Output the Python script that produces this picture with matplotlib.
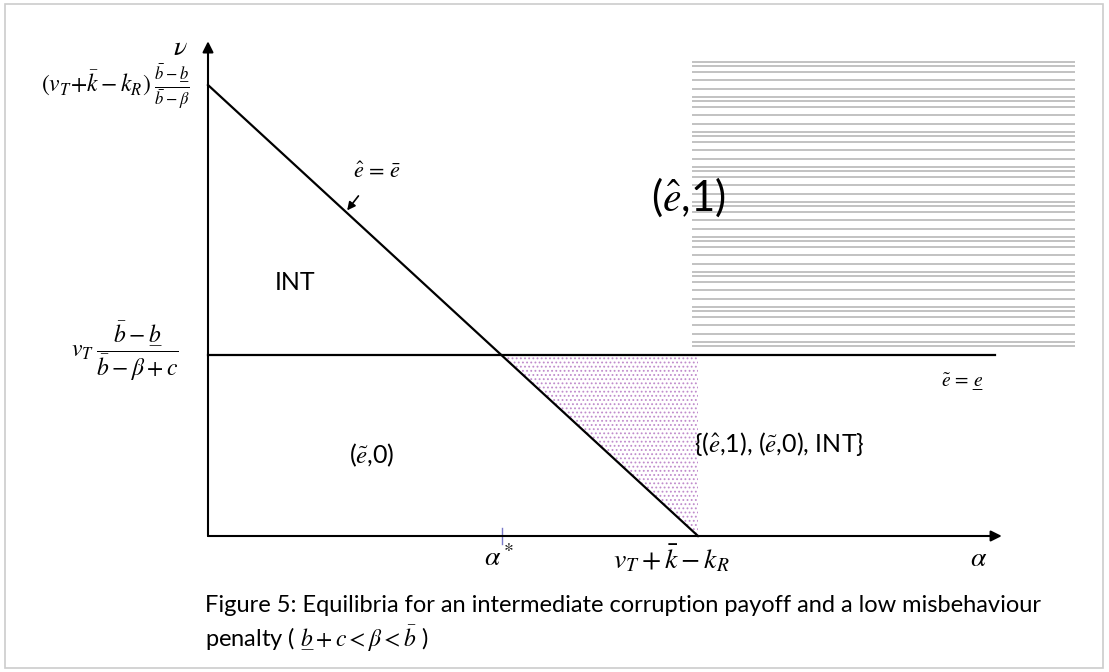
import numpy as np
import matplotlib
matplotlib.use("Agg")
import matplotlib.pyplot as plt
from matplotlib.patches import Rectangle
from matplotlib.mathtext import MathTextParser

plt.rcParams['mathtext.fontset'] = 'stix'
plt.rcParams['font.family'] = ['Lato', 'DejaVu Sans']
plt.rcParams['hatch.linewidth'] = 0.8

# underline support check (older mathtext has no \underline)
try:
    MathTextParser('path').parse(r'$\underline{b}$')
    UB, UE = r'\underline{b}', r'\underline{e}'
except Exception:
    UB, UE = 'b\u0332', 'e\u0332'

# --- chart values (alpha on x, nu on y, intercepts normalised to 1) ---
diag_alpha = [0.0, 1.0]          # e_hat = e_bar boundary
diag_nu = [1.0, 0.0]
nu_eq = 0.401                    # e_tilde = e_underline level
alpha_star = 1.0 - nu_eq         # where the two boundaries cross
alpha_end = 1.0                  # v_T + k_bar - k_R
hline_end = 1.606
x_axis_end = 1.62
y_axis_end = 1.097

# (e_hat,1) striped block
stripe_alpha = [0.988, 1.769]
stripe_top, stripe_bottom = 1.051, 0.419
stripe_period = 0.0776
stripe_offsets = [0.0, 0.0096, 0.0222, 0.0406, 0.0591]

# region labels
region_labels = ['INT', r'($\hat{e}$,1)', r'($\tilde{e}$,0)',
                 r'{($\hat{e}$,1), ($\tilde{e}$,0), INT}']
region_pos = [(0.178, 0.563), (0.980, 0.752), (0.335, 0.180), (0.992, 0.205)]
region_size = [18, 30, 18, 18]

fig = plt.figure(figsize=(11.09, 6.72), dpi=100)
ax = fig.add_axes([0, 0, 1, 1])
ax.set_xlim(-208 / 490, (1109 - 208) / 490)
ax.set_ylim((536 - 672) / 451, 536 / 451)
ax.axis('off')

# light frame round the figure
fig.patches.append(Rectangle((5 / 1109, 4 / 672), 1098 / 1109, 664 / 672,
                             transform=fig.transFigure, fill=False,
                             edgecolor='#cccccc', lw=1.2))

# stripes
stripe_y = []
for start in np.arange(stripe_top, stripe_bottom, -stripe_period):
    for off in stripe_offsets:
        y = start - off
        if y >= stripe_bottom:
            stripe_y.append(y)
ax.hlines(stripe_y, stripe_alpha[0], stripe_alpha[1], color='#bdbdbd', lw=1.3)

# dotted triangle of multiple equilibria
ax.fill([alpha_star, alpha_end, alpha_end], [nu_eq, nu_eq, 0.0],
        facecolor='none', edgecolor='#c08ccc', hatch='....', lw=0)

# axes with arrows
ax.annotate('', xy=(x_axis_end, 0), xytext=(0, 0),
            arrowprops=dict(arrowstyle='-|>', color='black', lw=1.5,
                            mutation_scale=16, shrinkA=0, shrinkB=0))
ax.annotate('', xy=(0, y_axis_end), xytext=(0, 0),
            arrowprops=dict(arrowstyle='-|>', color='black', lw=1.5,
                            mutation_scale=16, shrinkA=0, shrinkB=0))

# boundaries
ax.plot(diag_alpha, diag_nu, color='black', lw=1.6)
ax.plot([0, hline_end], [nu_eq, nu_eq], color='black', lw=1.6)
ax.plot([alpha_star, alpha_star], [-0.018, 0.018], color='#7a7ac8', lw=1.0)

# axis labels
ax.text(-0.057, 1.084, r'$\nu$', fontsize=20, ha='center', va='center')
ax.text(1.573, -0.048, r'$\alpha$', fontsize=20, ha='center', va='center')
ax.text(alpha_star - 0.005, -0.048, r'$\alpha^*$', fontsize=20, ha='center',
        va='center')
ax.text(alpha_end - 0.055, -0.048, r'$v_T + \bar{k} - k_R$', fontsize=20,
        ha='center', va='center')
ax.text(-0.037, 0.996,
        r'$(v_T\!+\!\bar{k} - k_R)\;\frac{\bar{b}-' + UB + r'}{\bar{b}-\beta}$',
        fontsize=17, ha='right', va='center')
ax.text(-0.06, nu_eq + 0.01,
        r'$v_T\;\dfrac{\bar{b} - ' + UB + r'}{\bar{b} - \beta + c}$',
        fontsize=17, ha='right', va='center')
ax.text(1.54, 0.34, r'$\tilde{e}\, =\, ' + UE + r'$', fontsize=14,
        ha='center', va='center')

# e_hat = e_bar pointer
ax.annotate(r'$\hat{e}\, =\, \bar{e}$', xy=(0.284, 0.722), xytext=(0.345, 0.807),
            fontsize=16, ha='center', va='center',
            arrowprops=dict(arrowstyle='-|>', color='black', lw=1.2,
                            mutation_scale=12, shrinkA=10, shrinkB=0))

for lab, (x, y), fs in zip(region_labels, region_pos, region_size):
    ax.text(x, y, lab, fontsize=fs, ha='left' if lab.startswith('{') else 'center',
            va='center')

# caption
ax.text(-0.006, -0.155,
        'Figure 5: Equilibria for an intermediate corruption payoff and a low misbehaviour',
        fontsize=17, ha='left', va='center')
ax.text(-0.006, -0.228,
        r'penalty ( $' + UB + r' + c < \beta < \bar{b}$ )',
        fontsize=17, ha='left', va='center')

fig.savefig('out.png', dpi=100)
